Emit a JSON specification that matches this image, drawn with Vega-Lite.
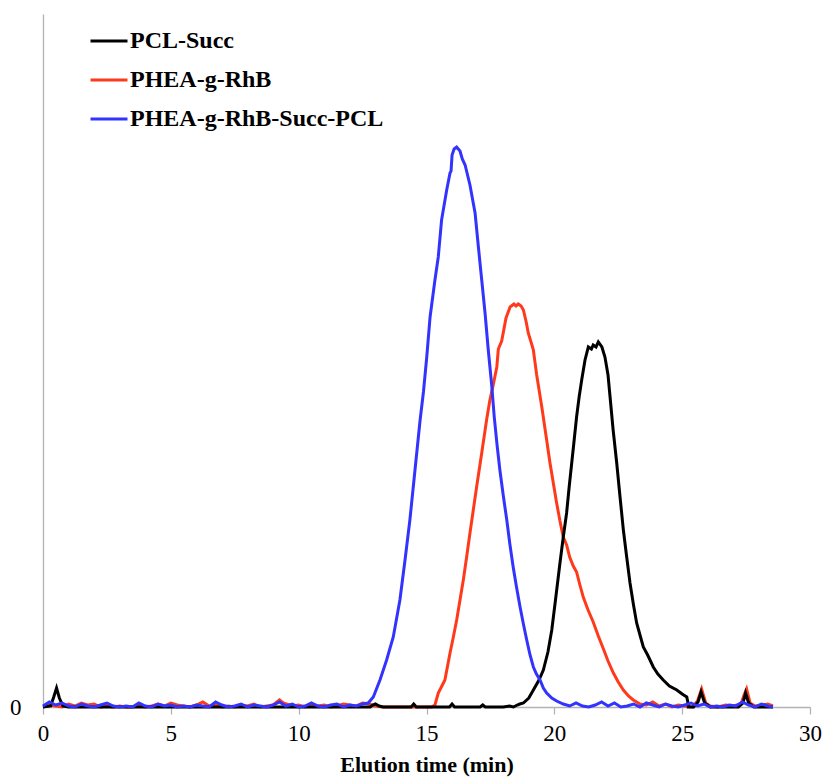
{
  "$schema": "https://vega.github.io/schema/vega-lite/v6.json",
  "width": 767,
  "height": 693,
  "autosize": {"type": "none"},
  "padding": {"left": 43, "top": 14, "right": 19, "bottom": 76},
  "background": "white",
  "config": {"view": {"stroke": null}, "font": "Liberation Serif"},
  "datasets": {
    "black": [
      {"t":0,"v":0},{"t":0.3,"v":1},{"t":0.42,"v":10},{"t":0.53,"v":19},{"t":0.64,"v":9},{"t":0.78,"v":1},{"t":1.0,"v":0},{"t":2.0,"v":0},{"t":4.0,"v":0},{"t":6.0,"v":0},{"t":8.0,"v":0},{"t":10.0,"v":0},{"t":12.0,"v":0},{"t":12.8,"v":0},{"t":12.9,"v":2},{"t":13.0,"v":3},{"t":13.15,"v":1},{"t":13.3,"v":0},{"t":14.4,"v":0},{"t":14.5,"v":3},{"t":14.6,"v":0},{"t":15.9,"v":0},{"t":16.0,"v":3},{"t":16.1,"v":0},{"t":17.1,"v":0},{"t":17.2,"v":2},{"t":17.3,"v":0},{"t":18.0,"v":0},{"t":18.25,"v":1},{"t":18.4,"v":0},{"t":18.55,"v":2},{"t":18.65,"v":3},{"t":18.79,"v":4},{"t":19.0,"v":9},{"t":19.18,"v":17},{"t":19.4,"v":27},{"t":19.57,"v":37},{"t":19.75,"v":55},{"t":19.9,"v":77},{"t":20.05,"v":108},{"t":20.22,"v":144},{"t":20.35,"v":170},{"t":20.48,"v":194},{"t":20.58,"v":220},{"t":20.68,"v":244},{"t":20.78,"v":268},{"t":20.87,"v":290},{"t":20.97,"v":310},{"t":21.07,"v":327},{"t":21.2,"v":347},{"t":21.33,"v":360},{"t":21.45,"v":358},{"t":21.52,"v":362},{"t":21.63,"v":360},{"t":21.72,"v":365},{"t":21.86,"v":360},{"t":21.98,"v":350},{"t":22.1,"v":332},{"t":22.18,"v":310},{"t":22.3,"v":277},{"t":22.44,"v":244},{"t":22.57,"v":210},{"t":22.7,"v":177},{"t":22.83,"v":150},{"t":22.96,"v":124},{"t":23.09,"v":103},{"t":23.22,"v":84},{"t":23.35,"v":72},{"t":23.48,"v":60},{"t":23.65,"v":52},{"t":23.87,"v":40},{"t":24.05,"v":33},{"t":24.26,"v":27},{"t":24.5,"v":21},{"t":24.79,"v":17},{"t":25.0,"v":13},{"t":25.18,"v":10},{"t":25.22,"v":5},{"t":25.24,"v":0},{"t":25.45,"v":0},{"t":25.62,"v":5},{"t":25.74,"v":15},{"t":25.88,"v":4},{"t":26.1,"v":0},{"t":27.2,"v":0},{"t":27.38,"v":4},{"t":27.48,"v":14},{"t":27.6,"v":4},{"t":27.8,"v":0},{"t":28.55,"v":0}
    ],
    "red": [
      {"t":0,"v":0},{"t":0.25,"v":2},{"t":0.5,"v":1},{"t":0.75,"v":0},{"t":1.0,"v":3},{"t":1.25,"v":1},{"t":1.5,"v":4},{"t":1.75,"v":2},{"t":2.0,"v":3},{"t":2.25,"v":0},{"t":2.5,"v":1},{"t":2.75,"v":0},{"t":3.0,"v":1},{"t":3.25,"v":0},{"t":3.5,"v":0},{"t":3.75,"v":2},{"t":4.0,"v":0},{"t":4.25,"v":1},{"t":4.5,"v":3},{"t":4.75,"v":1},{"t":5.0,"v":4},{"t":5.25,"v":2},{"t":5.5,"v":1},{"t":5.75,"v":0},{"t":6.0,"v":2},{"t":6.25,"v":5},{"t":6.5,"v":1},{"t":6.75,"v":2},{"t":7.0,"v":0},{"t":7.25,"v":1},{"t":7.5,"v":0},{"t":7.75,"v":2},{"t":8.0,"v":1},{"t":8.25,"v":3},{"t":8.5,"v":0},{"t":8.75,"v":1},{"t":9.0,"v":2},{"t":9.25,"v":7},{"t":9.4,"v":4},{"t":9.75,"v":1},{"t":10.0,"v":2},{"t":10.25,"v":0},{"t":10.5,"v":3},{"t":10.75,"v":1},{"t":11.0,"v":2},{"t":11.25,"v":0},{"t":11.5,"v":1},{"t":11.75,"v":3},{"t":12.0,"v":2},{"t":12.25,"v":1},{"t":12.5,"v":4},{"t":12.75,"v":3},{"t":13.0,"v":1},{"t":13.3,"v":0},{"t":15.2,"v":0},{"t":15.33,"v":2},{"t":15.46,"v":14},{"t":15.72,"v":27},{"t":15.92,"v":54},{"t":16.05,"v":70},{"t":16.18,"v":87},{"t":16.31,"v":107},{"t":16.44,"v":127},{"t":16.57,"v":150},{"t":16.7,"v":174},{"t":16.83,"v":197},{"t":16.96,"v":220},{"t":17.16,"v":254},{"t":17.35,"v":287},{"t":17.48,"v":307},{"t":17.61,"v":322},{"t":17.75,"v":340},{"t":17.81,"v":358},{"t":17.94,"v":366},{"t":18.0,"v":374},{"t":18.11,"v":389},{"t":18.27,"v":400},{"t":18.42,"v":403},{"t":18.5,"v":401},{"t":18.59,"v":403},{"t":18.7,"v":401},{"t":18.79,"v":397},{"t":18.9,"v":385},{"t":18.98,"v":374},{"t":19.1,"v":364},{"t":19.18,"v":357},{"t":19.31,"v":332},{"t":19.51,"v":300},{"t":19.7,"v":267},{"t":19.83,"v":244},{"t":19.96,"v":224},{"t":20.09,"v":204},{"t":20.22,"v":186},{"t":20.35,"v":170},{"t":20.48,"v":162},{"t":20.6,"v":150},{"t":20.74,"v":141},{"t":20.87,"v":135},{"t":21.0,"v":122},{"t":21.13,"v":110},{"t":21.32,"v":97},{"t":21.52,"v":85},{"t":21.72,"v":71},{"t":21.92,"v":58},{"t":22.1,"v":46},{"t":22.31,"v":34},{"t":22.5,"v":25},{"t":22.7,"v":17},{"t":22.9,"v":11},{"t":23.09,"v":7},{"t":23.35,"v":3},{"t":23.6,"v":2},{"t":23.85,"v":5},{"t":24.1,"v":1},{"t":24.35,"v":3},{"t":24.6,"v":0},{"t":24.85,"v":2},{"t":25.1,"v":1},{"t":25.4,"v":0},{"t":25.6,"v":6},{"t":25.76,"v":18},{"t":25.92,"v":4},{"t":26.1,"v":1},{"t":26.4,"v":0},{"t":26.7,"v":2},{"t":27.0,"v":1},{"t":27.3,"v":3},{"t":27.42,"v":12},{"t":27.52,"v":18},{"t":27.66,"v":4},{"t":27.85,"v":1},{"t":28.1,"v":2},{"t":28.35,"v":3},{"t":28.55,"v":1}
    ],
    "blue": [
      {"t":0,"v":1},{"t":0.25,"v":5},{"t":0.5,"v":2},{"t":0.75,"v":4},{"t":1.0,"v":1},{"t":1.25,"v":0},{"t":1.5,"v":3},{"t":1.75,"v":1},{"t":2.0,"v":0},{"t":2.25,"v":2},{"t":2.5,"v":4},{"t":2.75,"v":1},{"t":3.0,"v":0},{"t":3.25,"v":1},{"t":3.5,"v":0},{"t":3.75,"v":4},{"t":4.0,"v":1},{"t":4.25,"v":0},{"t":4.5,"v":3},{"t":4.75,"v":1},{"t":5.0,"v":2},{"t":5.25,"v":0},{"t":5.5,"v":1},{"t":5.75,"v":0},{"t":6.0,"v":2},{"t":6.25,"v":1},{"t":6.5,"v":0},{"t":6.75,"v":5},{"t":7.0,"v":2},{"t":7.25,"v":0},{"t":7.5,"v":1},{"t":7.75,"v":3},{"t":8.0,"v":0},{"t":8.25,"v":2},{"t":8.5,"v":1},{"t":8.75,"v":0},{"t":9.0,"v":2},{"t":9.25,"v":5},{"t":9.5,"v":1},{"t":9.75,"v":3},{"t":10.0,"v":0},{"t":10.25,"v":1},{"t":10.5,"v":4},{"t":10.75,"v":1},{"t":11.0,"v":0},{"t":11.25,"v":2},{"t":11.5,"v":3},{"t":11.75,"v":0},{"t":12.0,"v":2},{"t":12.25,"v":1},{"t":12.5,"v":3},{"t":12.72,"v":4},{"t":12.92,"v":10},{"t":13.18,"v":27},{"t":13.44,"v":47},{"t":13.7,"v":70},{"t":13.96,"v":107},{"t":14.16,"v":147},{"t":14.35,"v":187},{"t":14.55,"v":237},{"t":14.75,"v":287},{"t":14.88,"v":315},{"t":15.01,"v":350},{"t":15.14,"v":390},{"t":15.33,"v":427},{"t":15.46,"v":450},{"t":15.59,"v":487},{"t":15.79,"v":517},{"t":15.92,"v":534},{"t":15.96,"v":536},{"t":16.0,"v":552},{"t":16.08,"v":558},{"t":16.18,"v":560},{"t":16.31,"v":556},{"t":16.4,"v":548},{"t":16.51,"v":542},{"t":16.7,"v":522},{"t":16.9,"v":494},{"t":17.03,"v":460},{"t":17.16,"v":427},{"t":17.29,"v":394},{"t":17.42,"v":356},{"t":17.55,"v":322},{"t":17.65,"v":290},{"t":17.76,"v":262},{"t":17.87,"v":237},{"t":18.0,"v":212},{"t":18.14,"v":187},{"t":18.26,"v":163},{"t":18.39,"v":140},{"t":18.52,"v":120},{"t":18.66,"v":100},{"t":18.79,"v":83},{"t":18.92,"v":67},{"t":19.05,"v":52},{"t":19.18,"v":40},{"t":19.3,"v":33},{"t":19.44,"v":27},{"t":19.57,"v":19},{"t":19.7,"v":14},{"t":19.9,"v":9},{"t":20.09,"v":6},{"t":20.35,"v":3},{"t":20.6,"v":1},{"t":20.85,"v":4},{"t":21.1,"v":1},{"t":21.35,"v":0},{"t":21.6,"v":2},{"t":21.85,"v":5},{"t":22.1,"v":1},{"t":22.35,"v":4},{"t":22.6,"v":0},{"t":22.85,"v":1},{"t":23.1,"v":3},{"t":23.35,"v":0},{"t":23.6,"v":4},{"t":23.85,"v":2},{"t":24.1,"v":0},{"t":24.35,"v":3},{"t":24.6,"v":1},{"t":24.85,"v":0},{"t":25.1,"v":2},{"t":25.35,"v":4},{"t":25.6,"v":1},{"t":25.85,"v":3},{"t":26.1,"v":0},{"t":26.35,"v":1},{"t":26.6,"v":0},{"t":26.85,"v":2},{"t":27.1,"v":1},{"t":27.35,"v":5},{"t":27.6,"v":2},{"t":27.85,"v":0},{"t":28.1,"v":3},{"t":28.35,"v":1},{"t":28.55,"v":0}
    ]
  },
  "encoding": {
    "x": {
      "field": "t", "type": "quantitative",
      "scale": {"domain": [0, 30], "nice": false, "zero": false},
      "axis": {
        "values": [0, 5, 10, 15, 20, 25, 30], "title": "Elution time (min)", "grid": false,
        "domainColor": "#b3b3b3", "tickColor": "#b3b3b3", "tickSize": 7, "domainWidth": 1.3, "tickWidth": 1.3,
        "labelFont": "Liberation Serif", "labelFontSize": 23, "labelColor": "black", "labelPadding": 8, "labelFlush": false,
        "titleFont": "Liberation Serif", "titleFontSize": 22, "titleFontWeight": "bold", "titleColor": "black", "titlePadding": 9
      }
    },
    "y": {
      "field": "v", "type": "quantitative",
      "scale": {"domain": [0, 693], "nice": false},
      "axis": {
        "values": [0], "ticks": false, "grid": false, "title": null,
        "domainColor": "#b3b3b3", "domainWidth": 1.3,
        "labelFont": "Liberation Serif", "labelFontSize": 23, "labelColor": "black", "labelPadding": 22
      }
    },
    "color": {
      "field": "s", "type": "nominal",
      "scale": {"domain": ["PCL-Succ", "PHEA-g-RhB", "PHEA-g-RhB-Succ-PCL"], "range": ["#000000", "#ff3a1a", "#3333ff"]},
      "legend": {
        "orient": "none", "legendX": 46, "legendY": 7, "title": null,
        "symbolType": "stroke", "symbolSize": 1369, "symbolStrokeWidth": 3,
        "labelFont": "Liberation Serif", "labelFontSize": 24, "labelFontWeight": "bold", "labelColor": "black",
        "labelOffset": 1, "rowPadding": 7, "padding": 0, "labelLimit": 400
      }
    }
  },
  "layer": [
    {"data": {"name": "red"}, "transform": [{"calculate": "'PHEA-g-RhB'", "as": "s"}], "mark": {"type": "line", "strokeWidth": 3}},
    {"data": {"name": "black"}, "transform": [{"calculate": "'PCL-Succ'", "as": "s"}], "mark": {"type": "line", "strokeWidth": 3}},
    {"data": {"name": "blue"}, "transform": [{"calculate": "'PHEA-g-RhB-Succ-PCL'", "as": "s"}], "mark": {"type": "line", "strokeWidth": 3}}
  ]
}
